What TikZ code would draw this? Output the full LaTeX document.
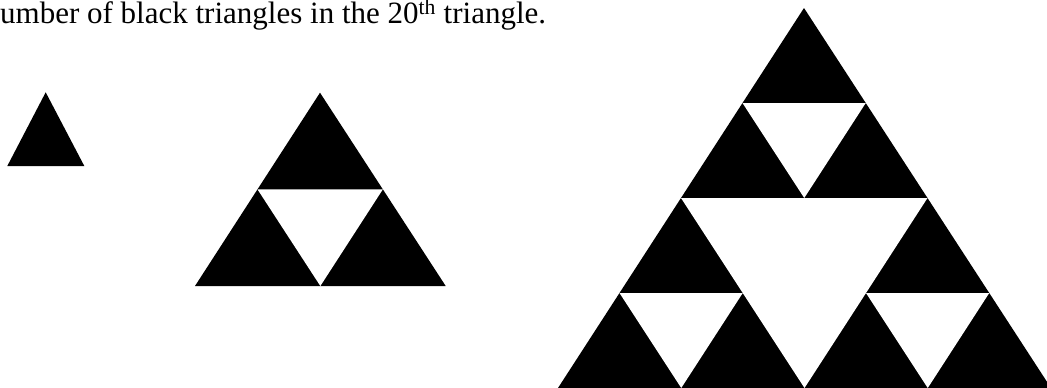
\documentclass[tikz,border=0pt]{standalone}
\usepackage{fontspec}
\setmainfont{Liberation Serif}
\usetikzlibrary{calc}
\tikzset{blacktri/.style={fill=black}, holetri/.style={fill=white}}

\begin{document}
\begin{tikzpicture}[x=1pt, y=-1pt]
  \useasboundingbox (0,0) rectangle (1047,388);

  % --- Caption line (cut at the left) ---
  \node[anchor=base west, inner sep=0pt, font=\fontsize{31}{37}\selectfont] (caption) at (0,23.5)
    {umber of black triangles in the 20\textsuperscript{th} triangle.};

  % --- Stage 1: one black triangle ---
  \coordinate (sA) at (45.7,92.3);
  \coordinate (sL) at (7.3,166);
  \coordinate (sR) at (84.3,166);
  \fill[blacktri] (sA) -- (sR) -- (sL) -- cycle;

  % --- Stage 2: three black triangles ---
  \coordinate (mA) at (320,92.7);
  \coordinate (mL) at (195,286);
  \coordinate (mR) at (445.7,286);
  \fill[blacktri] (mA) -- (mR) -- (mL) -- cycle;
  \fill[holetri] ($(mA)!0.5!(mL)$) -- ($(mA)!0.5!(mR)$) -- ($(mL)!0.5!(mR)$) -- cycle;

  % --- Stage 3: nine black triangles ---
  \coordinate (lA) at (804,8);
  \coordinate (lL) at (558,388);
  \coordinate (lR) at (1051,388);
  \fill[blacktri] (lA) -- (lR) -- (lL) -- cycle;
  \coordinate (lAL) at ($(lA)!0.5!(lL)$);
  \coordinate (lAR) at ($(lA)!0.5!(lR)$);
  \coordinate (lLR) at ($(lL)!0.5!(lR)$);
  \fill[holetri] (lAL) -- (lAR) -- (lLR) -- cycle;
  % holes in the three corner parts
  \foreach \p/\q/\r in {lA/lAL/lAR, lAL/lL/lLR, lAR/lLR/lR}
    \fill[holetri] ($(\p)!0.5!(\q)$) -- ($(\p)!0.5!(\r)$) -- ($(\q)!0.5!(\r)$) -- cycle;
\end{tikzpicture}
\end{document}
